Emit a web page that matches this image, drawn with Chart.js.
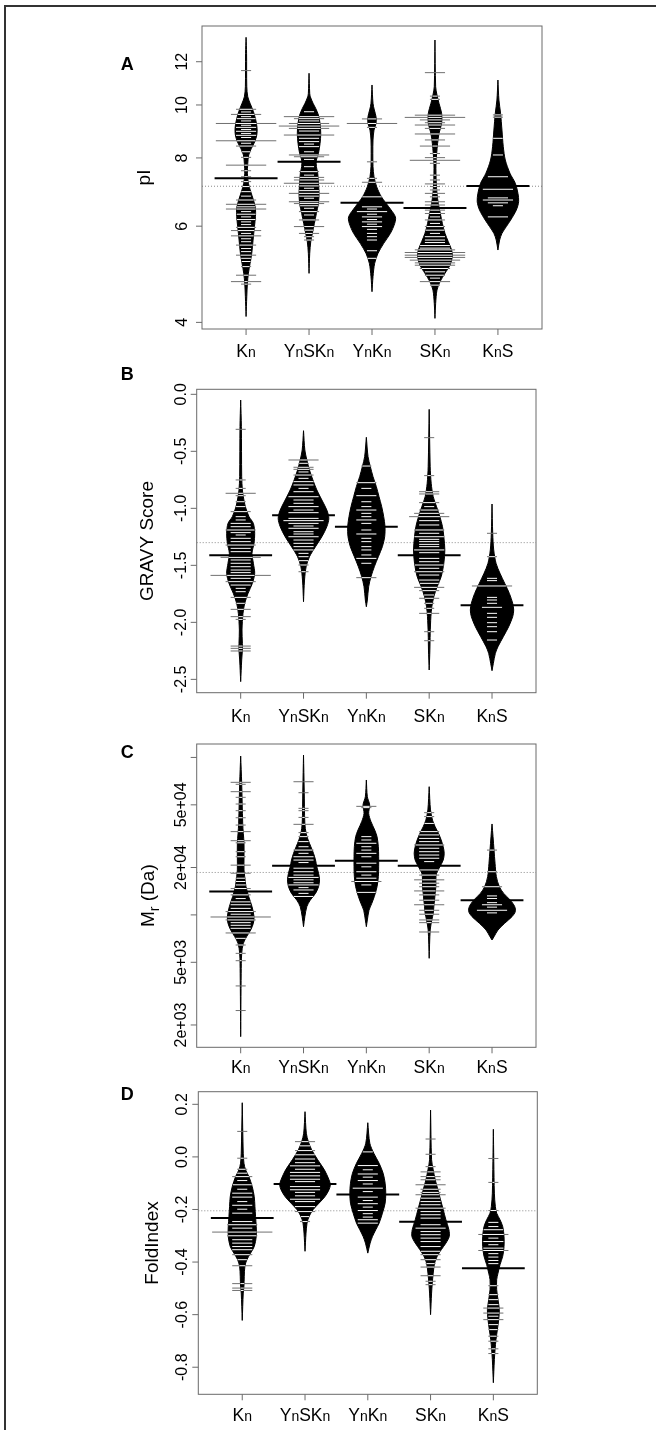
<!DOCTYPE html>
<html lang="en">
<head>
<meta charset="UTF-8">
<title>Beanplots: pI, GRAVY, Mr, FoldIndex</title>
<style>
html, body { margin: 0; padding: 0; background: #fff; }
body { width: 656px; height: 1430px; position: relative; overflow: hidden; }
.frame { position: absolute; left: 4px; top: 5px; width: 720px; height: 1500px;
         border-left: 2px solid #333; border-top: 2px solid #333; }
canvas { position: absolute; left: 0; }
</style>
</head>
<body>
<div class="frame"></div>
<canvas id="chartA" width="656" height="362" style="top:0px"></canvas>
<canvas id="chartB" width="656" height="362" style="top:362px"></canvas>
<canvas id="chartC" width="656" height="352" style="top:724px"></canvas>
<canvas id="chartD" width="656" height="354" style="top:1076px"></canvas>

<script src="https://cdn.jsdelivr.net/npm/chart.js"></script>
<script>
// categories, {..} = subscript
const categories = ['K{n}', 'Y{n}SK{n}', 'Y{n}K{n}', 'SK{n}', 'K{n}S'];

// ---- A: pI (log axis) ----
// bean outlines: [value, half width in category units]
const pIOutlines = [
  [[13.30,0],[12.43,0.008],[10.80,0.011],[10.35,0.027],[10.07,0.064],[9.72,0.117],[9.385,0.154],[9.06,0.175],[8.81,0.170],[8.565,0.138],[8.33,0.085],[8.10,0.042],[7.82,0.027],[7.50,0.021],[7.19,0.037],[6.94,0.074],[6.70,0.117],[6.47,0.149],[6.245,0.149],[5.99,0.133],[5.66,0.111],[5.35,0.090],[5.13,0.064],[4.92,0.037],[4.715,0.021],[4.457,0.011],[4.10,0]],
  [[11.43,0],[10.50,0.011],[10.35,0.021],[10.07,0.064],[9.857,0.106],[9.584,0.149],[9.253,0.175],[8.872,0.186],[8.505,0.175],[8.154,0.149],[7.929,0.117],[7.710,0.117],[7.50,0.138],[7.19,0.149],[6.89,0.159],[6.604,0.149],[6.333,0.117],[6.072,0.085],[5.821,0.053],[5.620,0.027],[5.35,0.011],[4.918,0]],
  [[10.88,0],[10.07,0.016],[9.79,0.037],[9.518,0.064],[9.253,0.064],[8.997,0.032],[8.627,0.016],[8.154,0.013],[7.71,0.016],[7.391,0.032],[7.085,0.074],[6.793,0.149],[6.513,0.265],[6.245,0.371],[6.072,0.361],[5.821,0.292],[5.581,0.186],[5.35,0.095],[5.13,0.042],[4.849,0.016],[4.552,0]],
  [[13.15,0],[10.80,0.011],[10.43,0.032],[10.07,0.064],[9.652,0.106],[9.253,0.106],[8.872,0.064],[8.505,0.042],[8.154,0.027],[7.82,0.016],[7.50,0.016],[7.19,0.021],[6.89,0.032],[6.604,0.053],[6.333,0.085],[6.072,0.117],[5.821,0.159],[5.620,0.212],[5.426,0.265],[5.276,0.276],[5.093,0.239],[4.918,0.159],[4.748,0.080],[4.584,0.032],[4.333,0.011],[4.068,0]],
  [[11.11,0],[10.21,0.016],[9.652,0.042],[8.997,0.064],[8.387,0.085],[7.929,0.117],[7.50,0.191],[7.19,0.276],[6.89,0.318],[6.652,0.329],[6.422,0.292],[6.157,0.202],[5.99,0.133],[5.821,0.064],[5.66,0.027],[5.426,0]]
];
// bean lines: [value, number of points at that value]
const pILines = [
  [[11.56,1],[9.82,2],[9.71,1],[9.61,3],[9.52,1],[9.44,2],[9.35,1],[9.25,6],[9.18,1],[9.10,2],[9.02,1],[8.95,2],[8.87,1],[8.80,2],[8.72,1],[8.60,6],[8.51,1],[8.41,2],[8.21,1],[8.02,1],[7.76,4],[7.58,1],[7.39,1],[7.24,1],[7.09,1],[6.94,1],[6.81,1],[6.70,2],[6.58,4],[6.51,2],[6.45,4],[6.38,1],[6.31,2],[6.24,1],[6.17,2],[6.11,1],[6.04,1],[5.97,2],[5.89,3],[5.82,1],[5.76,3],[5.69,1],[5.62,1],[5.54,2],[5.46,1],[5.39,1],[5.31,2],[5.24,1],[5.17,1],[5.06,1],[4.88,2],[4.75,3],[4.70,1]],
  [[9.72,1],[9.52,5],[9.44,3],[9.35,2],[9.25,4],[9.15,6],[9.06,4],[8.96,2],[8.81,5],[8.69,2],[8.57,2],[8.48,1],[8.39,2],[8.21,1],[8.10,4],[8.04,3],[7.95,1],[7.71,1],[7.55,2],[7.44,1],[7.37,3],[7.29,3],[7.19,5],[7.11,2],[7.04,1],[6.97,2],[6.89,4],[6.81,2],[6.75,1],[6.65,4],[6.60,3],[6.54,2],[6.47,1],[6.38,2],[6.29,1],[6.16,2],[5.99,3],[5.90,1],[5.82,2],[5.74,1],[5.66,1]],
  [[9.43,2],[9.25,5],[9.10,1],[7.87,1],[7.34,1],[7.22,2],[6.79,2],[6.51,2],[6.45,1],[6.38,3],[6.31,1],[6.24,2],[6.17,1],[6.11,2],[6.05,1],[5.99,2],[5.92,1],[5.82,1],[5.74,1],[5.66,1],[5.41,1],[5.24,1]],
  [[11.46,2],[10.38,1],[10.24,1],[9.58,4],[9.49,6],[9.39,3],[9.28,2],[9.19,4],[9.06,2],[8.85,4],[8.63,2],[8.41,3],[8.15,1],[8.01,2],[7.92,5],[7.82,1],[7.44,1],[7.29,1],[7.17,2],[7.09,1],[6.99,1],[6.89,2],[6.79,1],[6.65,2],[6.56,2],[6.42,2],[6.33,2],[6.24,1],[6.16,2],[6.07,1],[5.99,2],[5.90,2],[5.82,1],[5.74,2],[5.66,2],[5.60,2],[5.53,3],[5.47,3],[5.43,4],[5.37,6],[5.31,6],[5.26,6],[5.20,5],[5.14,4],[5.09,4],[5.02,3],[4.95,2],[4.88,2],[4.82,1],[4.75,3],[4.68,1]],
  [[9.59,1],[9.50,1],[8.69,1],[8.10,1],[7.39,2],[7.01,3],[6.76,2],[6.70,3],[6.62,2],[6.54,1],[6.24,2]]
];
const pIAverages = [7.34, 7.87, 6.62, 6.48, 7.11];
const pIOverall = 7.10;
const pIRange = [3.89, 13.95];
const pITicks = [4, 6, 8, 10, 12];
const pITickLabels = ['4', '6', '8', '10', '12'];

// ---- B: GRAVY score ----
const gravyOutlines = [
  [[-0.050,0],[-0.284,0.011],[-0.722,0.016],[-0.839,0.027],[-0.898,0.042],[-0.985,0.074],[-1.073,0.133],[-1.132,0.202],[-1.219,0.223],[-1.307,0.212],[-1.395,0.180],[-1.482,0.202],[-1.570,0.223],[-1.658,0.186],[-1.746,0.117],[-1.833,0.064],[-1.921,0.037],[-2.067,0.021],[-2.184,0.027],[-2.243,0.027],[-2.330,0.016],[-2.520,0]],
  [[-0.319,0],[-0.488,0.021],[-0.576,0.053],[-0.664,0.095],[-0.751,0.149],[-0.839,0.212],[-0.927,0.292],[-1.015,0.371],[-1.088,0.403],[-1.161,0.371],[-1.249,0.292],[-1.336,0.191],[-1.424,0.095],[-1.512,0.042],[-1.629,0.016],[-1.819,0]],
  [[-0.377,0],[-0.547,0.027],[-0.635,0.064],[-0.722,0.106],[-0.810,0.159],[-0.898,0.202],[-0.985,0.244],[-1.073,0.276],[-1.161,0.297],[-1.249,0.292],[-1.336,0.255],[-1.424,0.191],[-1.512,0.127],[-1.599,0.074],[-1.687,0.037],[-1.804,0.016],[-1.863,0]],
  [[-0.132,0],[-0.635,0.016],[-0.781,0.032],[-0.898,0.064],[-0.985,0.117],[-1.073,0.170],[-1.161,0.212],[-1.249,0.233],[-1.365,0.249],[-1.482,0.233],[-1.599,0.191],[-1.687,0.127],[-1.775,0.074],[-1.863,0.042],[-1.950,0.027],[-2.096,0.016],[-2.243,0.011],[-2.418,0]],
  [[-0.962,0],[-1.219,0.011],[-1.365,0.027],[-1.482,0.064],[-1.570,0.127],[-1.658,0.202],[-1.746,0.276],[-1.833,0.329],[-1.892,0.345],[-1.950,0.329],[-2.038,0.265],[-2.126,0.180],[-2.213,0.095],[-2.272,0.053],[-2.360,0.021],[-2.424,0]]
];
const gravyLines = [
  [[-0.307,1],[-0.751,1],[-0.825,1],[-0.868,3],[-0.889,1],[-0.942,1],[-0.985,1],[-1.029,2],[-1.073,1],[-1.102,1],[-1.132,2],[-1.161,2],[-1.190,3],[-1.213,2],[-1.234,1],[-1.263,2],[-1.292,2],[-1.322,3],[-1.351,2],[-1.380,2],[-1.430,4],[-1.453,2],[-1.482,2],[-1.512,2],[-1.541,2],[-1.564,2],[-1.588,6],[-1.614,2],[-1.643,3],[-1.673,2],[-1.702,1],[-1.731,1],[-1.781,2],[-1.833,1],[-1.886,2],[-1.950,2],[-1.974,1],[-2.208,2],[-2.228,2],[-2.251,2]],
  [[-0.576,3],[-0.605,1],[-0.640,2],[-0.658,2],[-0.681,1],[-0.708,2],[-0.737,1],[-0.766,2],[-0.795,2],[-0.825,1],[-0.854,2],[-0.898,3],[-0.927,2],[-0.956,2],[-0.985,3],[-1.015,2],[-1.038,3],[-1.088,3],[-1.108,4],[-1.132,3],[-1.155,2],[-1.175,3],[-1.205,2],[-1.225,2],[-1.249,3],[-1.278,2],[-1.307,2],[-1.336,2],[-1.365,2],[-1.395,1],[-1.424,1],[-1.459,1],[-1.497,1],[-1.556,1]],
  [[-0.629,1],[-0.775,2],[-0.825,1],[-0.889,2],[-0.942,1],[-0.985,1],[-1.015,2],[-1.044,1],[-1.073,1],[-1.102,2],[-1.132,1],[-1.190,1],[-1.225,2],[-1.263,1],[-1.292,1],[-1.336,1],[-1.365,1],[-1.409,1],[-1.439,2],[-1.482,1],[-1.608,2]],
  [[-0.380,1],[-0.713,1],[-0.854,2],[-0.874,2],[-0.950,2],[-0.985,1],[-1.015,2],[-1.044,3],[-1.073,4],[-1.108,2],[-1.146,2],[-1.190,3],[-1.219,2],[-1.249,3],[-1.272,2],[-1.292,2],[-1.316,2],[-1.336,2],[-1.365,3],[-1.389,2],[-1.439,2],[-1.468,2],[-1.497,3],[-1.526,2],[-1.556,3],[-1.585,2],[-1.629,2],[-1.658,2],[-1.693,3],[-1.722,2],[-1.760,1],[-1.789,2],[-1.833,1],[-1.877,1],[-1.921,2],[-2.082,1],[-2.161,1]],
  [[-1.219,1],[-1.424,1],[-1.614,1],[-1.634,1],[-1.681,4],[-1.781,1],[-1.804,1],[-1.833,1],[-1.868,2],[-1.921,1],[-1.956,1],[-2.003,1],[-2.038,1],[-2.082,1],[-2.155,1]]
];
const gravyAverages = [-1.412, -1.061, -1.161, -1.412, -1.851];
const gravyOverall = -1.301;
const gravyRange = [-2.617, 0.044];
const gravyTicks = [0, -0.5, -1, -1.5, -2, -2.5];
const gravyTickLabels = ['0.0', '-0.5', '-1.0', '-1.5', '-2.0', '-2.5'];

// ---- C: Mr in Da (log axis) ----
const mrOutlines = [
  [[102000,0],[68400,0.016],[38100,0.032],[32900,0.042],[28500,0.053],[23400,0.053],[19300,0.053],[17500,0.064],[15100,0.085],[13100,0.127],[11300,0.180],[9750,0.212],[8850,0.202],[8020,0.159],[7280,0.095],[6600,0.042],[5700,0.016],[4260,0.008],[1686,0]],
  [[103500,0],[62100,0.011],[38100,0.021],[32900,0.042],[29900,0.074],[27100,0.117],[24600,0.159],[22300,0.191],[20200,0.212],[18400,0.239],[16700,0.255],[15100,0.239],[13700,0.191],[12400,0.106],[11300,0.053],[9750,0.021],[8420,0]],
  [[71900,0],[56300,0.016],[49900,0.053],[44100,0.037],[39100,0.074],[34600,0.133],[31400,0.170],[27100,0.191],[23400,0.196],[20200,0.196],[17500,0.191],[15100,0.170],[13100,0.127],[11800,0.085],[10700,0.042],[9290,0.016],[8420,0]],
  [[65200,0],[46400,0.021],[40000,0.053],[36300,0.095],[32900,0.149],[29900,0.191],[27100,0.223],[24600,0.239],[22300,0.223],[20200,0.170],[18400,0.117],[16700,0.106],[15100,0.106],[13700,0.095],[12400,0.085],[11300,0.074],[10200,0.064],[9290,0.042],[8020,0.016],[5300,0]],
  [[37800,0],[31400,0.016],[25800,0.032],[21300,0.048],[17500,0.069],[15100,0.117],[13700,0.186],[12400,0.292],[11300,0.361],[10500,0.371],[9750,0.318],[8850,0.202],[8020,0.095],[7270,0.032],[6930,0]]
];
const mrLines = [
  [[69500,2],[67500,1],[60600,2],[55800,1],[50600,1],[45900,1],[41400,1],[37200,1],[33800,2],[29600,2],[28700,1],[25200,1],[23400,1],[20700,2],[18400,2],[17100,1],[16300,1],[15500,1],[14700,2],[13400,2],[12700,1],[12100,2],[11600,2],[11000,2],[10500,3],[10100,2],[9700,6],[9290,3],[8930,2],[8590,2],[8220,2],[7680,3],[7100,1],[6440,1],[5700,1],[5120,1],[3540,1],[2470,1]],
  [[70100,2],[59700,1],[47500,1],[45900,1],[41600,1],[37600,2],[33300,1],[31400,1],[29200,1],[27100,1],[25800,2],[24600,1],[23400,2],[22300,2],[21500,1],[19800,2],[18800,2],[17900,2],[17300,3],[16700,2],[16000,2],[15500,3],[14900,1],[14400,2],[13700,1],[13100,2]],
  [[48900,2],[48000,1],[31400,1],[29900,1],[28500,2],[27100,1],[25800,1],[24600,2],[23400,1],[21300,2],[20200,1],[18800,2],[17900,1],[17100,2],[16300,3],[15500,1],[13900,2]],
  [[44600,1],[42100,1],[38100,1],[33800,2],[32200,2],[30600,2],[29200,2],[27800,3],[26500,2],[25200,2],[24000,2],[22900,2],[21800,1],[19300,2],[17900,2],[16700,3],[15900,2],[15100,2],[14200,3],[13400,2],[12400,2],[11600,3],[10700,2],[10100,2],[9290,2],[8930,2],[7790,2]],
  [[25800,1],[18800,1],[15100,2],[13200,1],[12700,1],[11960,1],[11600,2],[11200,1],[10700,3],[10300,1]]
];
const mrAverages = [14100, 20500, 22100, 20500, 12400];
const mrOverall = 18600;
const mrRange = [1443, 121700];
const mrTicks = [2000, 5000, 10000, 20000, 50000, 100000];
const mrTickLabels = ['2e+03', '5e+03', '', '2e+04', '5e+04', ''];

// ---- D: FoldIndex ----
const foldOutlines = [
  [[0.206,0],[0.014,0.016],[-0.024,0.027],[-0.049,0.053],[-0.075,0.106],[-0.113,0.159],[-0.151,0.191],[-0.189,0.202],[-0.227,0.212],[-0.265,0.223],[-0.303,0.223],[-0.341,0.191],[-0.366,0.133],[-0.391,0.074],[-0.416,0.042],[-0.454,0.032],[-0.492,0.027],[-0.518,0.016],[-0.622,0]],
  [[0.172,0],[0.090,0.021],[0.058,0.053],[0.027,0.106],[-0.011,0.202],[-0.049,0.308],[-0.087,0.382],[-0.106,0.403],[-0.125,0.382],[-0.151,0.318],[-0.176,0.223],[-0.201,0.127],[-0.227,0.064],[-0.252,0.032],[-0.290,0.016],[-0.359,0]],
  [[0.130,0],[0.052,0.032],[0.014,0.095],[-0.024,0.180],[-0.062,0.244],[-0.100,0.276],[-0.138,0.286],[-0.176,0.276],[-0.214,0.233],[-0.252,0.180],[-0.277,0.127],[-0.303,0.074],[-0.328,0.037],[-0.366,0]],
  [[0.178,0],[-0.011,0.016],[-0.049,0.042],[-0.087,0.074],[-0.125,0.117],[-0.163,0.159],[-0.201,0.202],[-0.239,0.244],[-0.277,0.292],[-0.303,0.297],[-0.328,0.244],[-0.353,0.170],[-0.378,0.106],[-0.404,0.064],[-0.442,0.042],[-0.480,0.027],[-0.518,0.016],[-0.600,0]],
  [[0.105,0],[-0.138,0.016],[-0.189,0.032],[-0.214,0.053],[-0.239,0.106],[-0.265,0.149],[-0.303,0.170],[-0.341,0.170],[-0.378,0.149],[-0.410,0.106],[-0.442,0.074],[-0.467,0.053],[-0.505,0.053],[-0.543,0.074],[-0.581,0.095],[-0.619,0.085],[-0.657,0.064],[-0.695,0.042],[-0.733,0.027],[-0.771,0.016],[-0.859,0]]
];
const foldLines = [
  [[0.097,1],[-0.005,1],[-0.047,1],[-0.062,1],[-0.075,2],[-0.090,1],[-0.106,2],[-0.123,1],[-0.138,2],[-0.153,2],[-0.170,1],[-0.184,2],[-0.199,1],[-0.214,2],[-0.246,2],[-0.258,3],[-0.271,2],[-0.286,6],[-0.300,3],[-0.315,2],[-0.328,2],[-0.341,2],[-0.353,2],[-0.372,2],[-0.391,1],[-0.414,2],[-0.482,2],[-0.499,2],[-0.508,2]],
  [[0.058,2],[0.042,1],[0.024,2],[0.008,2],[-0.008,2],[-0.022,2],[-0.034,3],[-0.047,2],[-0.059,3],[-0.072,3],[-0.085,3],[-0.094,2],[-0.113,3],[-0.125,3],[-0.135,2],[-0.148,2],[-0.161,3],[-0.170,2],[-0.189,2],[-0.208,2],[-0.227,1],[-0.246,1]],
  [[0.019,1],[-0.033,2],[-0.049,1],[-0.065,2],[-0.077,1],[-0.090,2],[-0.103,1],[-0.119,3],[-0.132,1],[-0.153,2],[-0.166,1],[-0.178,2],[-0.191,1],[-0.204,2],[-0.216,1],[-0.229,1],[-0.239,2],[-0.252,2]],
  [[0.068,1],[0.010,1],[-0.037,1],[-0.057,2],[-0.075,2],[-0.087,2],[-0.106,3],[-0.123,2],[-0.135,2],[-0.144,3],[-0.157,2],[-0.170,2],[-0.182,2],[-0.195,3],[-0.208,2],[-0.220,2],[-0.233,2],[-0.258,2],[-0.271,3],[-0.284,2],[-0.296,2],[-0.309,2],[-0.322,2],[-0.341,2],[-0.359,2],[-0.372,2],[-0.391,2],[-0.406,1],[-0.419,2],[-0.452,2],[-0.473,1],[-0.486,1]],
  [[-0.006,1],[-0.097,1],[-0.204,1],[-0.249,1],[-0.265,1],[-0.277,2],[-0.295,3],[-0.309,1],[-0.322,2],[-0.334,1],[-0.347,2],[-0.356,3],[-0.368,1],[-0.381,1],[-0.394,1],[-0.406,1],[-0.490,1],[-0.524,1],[-0.543,1],[-0.562,1],[-0.575,2],[-0.594,2],[-0.606,1],[-0.619,2],[-0.638,1],[-0.657,1],[-0.682,1],[-0.701,1],[-0.730,1],[-0.748,1]]
];
const foldAverages = [-0.232, -0.103, -0.143, -0.247, -0.424];
const foldOverall = -0.205;
const foldRange = [-0.903, 0.248];
const foldTicks = [0.2, 0, -0.2, -0.4, -0.6, -0.8];
const foldTickLabels = ['0.2', '0.0', '-0.2', '-0.4', '-0.6', '-0.8'];

const LINE_UNIT = 0.16;   // beanline length per point
const AVG_HALF = 0.5;
const FONT = '"Liberation Sans", Arial, Helvetica, sans-serif';

// half width of a bean at value v (linear interp of the outline)
function widthAt(outline, v, log) {
  const f = log ? Math.log : (a => a);
  const t = f(v);
  for (let i = 0; i < outline.length - 1; i++) {
    const a = f(outline[i][0]), b = f(outline[i + 1][0]);
    if ((t <= a && t >= b) || (t >= a && t <= b)) {
      const r = a === b ? 0 : (t - a) / (b - a);
      return outline[i][1] + r * (outline[i + 1][1] - outline[i][1]);
    }
  }
  return 0;
}

const gap = () => ({x: null, y: null});

function buildDatasets(outlines, lines, averages, overall, log) {
  const ds = [];
  ds.push({
    data: [{x: 0.3, y: overall}, {x: 5.7, y: overall}],
    borderColor: '#8a8a8a', borderWidth: 1, borderDash: [1, 2], order: 6
  });
  outlines.forEach((outline, i) => {
    const c = i + 1;
    const right = outline.map(([v, w]) => ({x: c + w, y: v}));
    const left = outline.slice().reverse().map(([v, w]) => ({x: c - w, y: v}));
    ds.push({
      data: right.concat(left), fill: 'shape', backgroundColor: '#000',
      borderColor: '#000', borderWidth: 1, tension: 0.3, order: 5
    });
  });
  const outer = [], inner = [];
  lines.forEach((list, i) => {
    const c = i + 1;
    list.forEach(([v, n]) => {
      const half = n * LINE_UNIT / 2;
      let hw = widthAt(outlines[i], v, log);
      if (hw < 0.012) hw = 0;
      const inHalf = Math.min(half, hw);
      if (half > hw) {
        outer.push({x: c - half, y: v}, {x: c - inHalf, y: v}, gap(),
                   {x: c + inHalf, y: v}, {x: c + half, y: v}, gap());
      }
      if (inHalf > 0) inner.push({x: c - inHalf, y: v}, {x: c + inHalf, y: v}, gap());
    });
  });
  ds.push({data: outer, borderColor: '#707070', borderWidth: 1, order: 3});
  ds.push({data: inner, borderColor: '#ffffff', borderWidth: 1, order: 2});
  const avg = [];
  averages.forEach((v, i) => avg.push({x: i + 1 - AVG_HALF, y: v}, {x: i + 1 + AVG_HALF, y: v}, gap()));
  ds.push({data: avg, borderColor: '#000', borderWidth: 2, order: 1});
  return ds;
}

function parseRich(s) {
  const parts = [];
  s.split(/(\{[^}]*\})/).forEach(p => {
    if (!p) return;
    if (p[0] === '{') parts.push({t: p.slice(1, -1), sub: true});
    else parts.push({t: p, sub: false});
  });
  return parts;
}

function drawRich(ctx, s, x, y, size, subSize, drop) {
  const parts = parseRich(s);
  const fontOf = p => (p.sub ? subSize : size) + 'px ' + FONT;
  let w = 0;
  parts.forEach(p => { ctx.font = fontOf(p); p.w = ctx.measureText(p.t).width; w += p.w; });
  let cx = x - w / 2;
  ctx.textAlign = 'left';
  ctx.textBaseline = 'alphabetic';
  parts.forEach(p => { ctx.font = fontOf(p); ctx.fillText(p.t, cx, y + (p.sub ? drop : 0)); cx += p.w; });
}

// R-style axes: box, outward ticks, rotated y labels
const rAxes = {
  id: 'rAxes',
  afterDraw(chart, args, o) {
    const {ctx, chartArea: a, scales} = chart;
    ctx.save();
    ctx.strokeStyle = '#6a6a6a';
    ctx.lineWidth = 1;
    ctx.strokeRect(a.left, a.top, a.right - a.left, a.bottom - a.top);
    ctx.fillStyle = '#000';
    o.yTicks.forEach((v, i) => {
      const y = scales.y.getPixelForValue(v);
      ctx.beginPath(); ctx.moveTo(a.left - 6, y); ctx.lineTo(a.left, y); ctx.stroke();
      if (o.yLabels[i]) {
        ctx.save();
        ctx.translate(a.left - o.tickGap, y);
        ctx.rotate(-Math.PI / 2);
        ctx.font = '16px ' + FONT;
        ctx.textAlign = 'center';
        ctx.textBaseline = 'alphabetic';
        ctx.fillText(o.yLabels[i], 0, 0);
        ctx.restore();
      }
    });
    categories.forEach((lab, i) => {
      const x = scales.x.getPixelForValue(i + 1);
      ctx.beginPath(); ctx.moveTo(x, a.bottom); ctx.lineTo(x, a.bottom + 6); ctx.stroke();
      drawRich(ctx, lab, x, a.bottom + o.labelGap, 17.5, 14, 0);
    });
    ctx.save();
    ctx.translate(a.left - o.titleGap, (a.top + a.bottom) / 2);
    ctx.rotate(-Math.PI / 2);
    drawRich(ctx, o.title, 0, 0, 19, 14, 5);
    ctx.restore();
    ctx.font = 'bold 18px ' + FONT;
    ctx.textAlign = 'left';
    ctx.fillText(o.letter, o.letterX, o.letterY);
    ctx.restore();
  }
};

function makePanel(id, p) {
  new Chart(document.getElementById(id), {
    type: 'line',
    data: {datasets: buildDatasets(p.outlines, p.lines, p.averages, p.overall, p.log)},
    options: {
      responsive: false,
      animation: false,
      devicePixelRatio: 1,
      layout: {padding: p.padding},
      elements: {point: {radius: 0, hoverRadius: 0}, line: {borderCapStyle: 'butt'}},
      scales: {
        x: {type: 'linear', min: 0.3, max: 5.7, display: false},
        y: {type: p.log ? 'logarithmic' : 'linear', min: p.range[0], max: p.range[1], display: false}
      },
      plugins: {
        legend: {display: false},
        tooltip: {enabled: false},
        rAxes: {
          yTicks: p.ticks, yLabels: p.tickLabels, title: p.title, letter: p.letter,
          letterX: 120.7, letterY: p.letterY, tickGap: p.tickGap, titleGap: p.titleGap, labelGap: p.labelGap
        }
      }
    },
    plugins: [rAxes]
  });
}

makePanel('chartA', {
  outlines: pIOutlines, lines: pILines, averages: pIAverages, overall: pIOverall, log: true,
  range: pIRange, ticks: pITicks, tickLabels: pITickLabels, title: 'pI', letter: 'A',
  padding: {left: 202, right: 114, top: 26, bottom: 33},
  letterY: 70, tickGap: 14.7, titleGap: 52, labelGap: 28.3
});
makePanel('chartB', {
  outlines: gravyOutlines, lines: gravyLines, averages: gravyAverages, overall: gravyOverall, log: false,
  range: gravyRange, ticks: gravyTicks, tickLabels: gravyTickLabels, title: 'GRAVY Score', letter: 'B',
  padding: {left: 196.7, right: 120, top: 27.3, bottom: 31.3},
  letterY: 18, tickGap: 10.7, titleGap: 43.7, labelGap: 29
});
makePanel('chartC', {
  outlines: mrOutlines, lines: mrLines, averages: mrAverages, overall: mrOverall, log: true,
  range: mrRange, ticks: mrTicks, tickLabels: mrTickLabels, title: 'M{r} (Da)', letter: 'C',
  padding: {left: 196.7, right: 120, top: 20, bottom: 28.7},
  letterY: 34.3, tickGap: 10.7, titleGap: 43.2, labelGap: 26
});
makePanel('chartD', {
  outlines: foldOutlines, lines: foldLines, averages: foldAverages, overall: foldOverall, log: false,
  range: foldRange, ticks: foldTicks, tickLabels: foldTickLabels, title: 'FoldIndex', letter: 'D',
  padding: {left: 198.3, right: 118.7, top: 15.7, bottom: 35.7},
  letterY: 24, tickGap: 11, titleGap: 40.3, labelGap: 26.7
});
</script>
</body>
</html>
